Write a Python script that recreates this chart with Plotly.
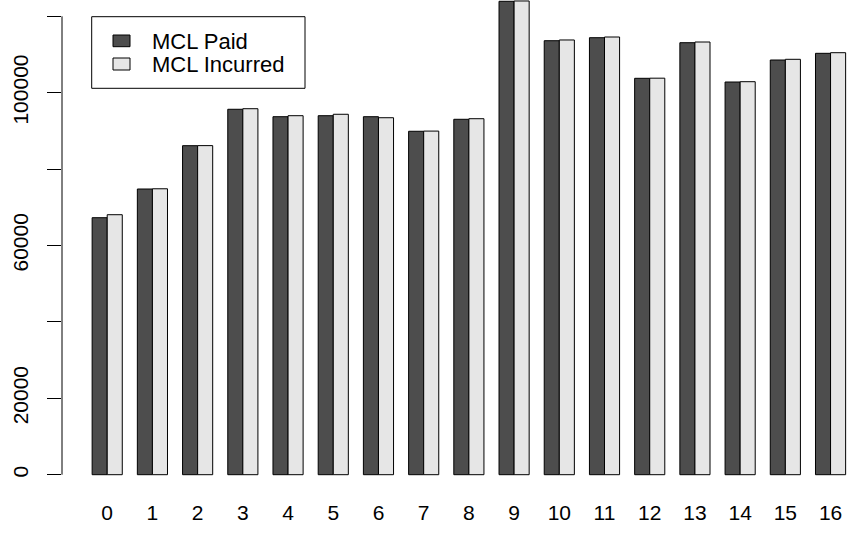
import plotly.graph_objects as go

# Development periods and the two mean-chain-ladder series
periods = [str(i) for i in range(17)]
series_names = ["MCL Paid", "MCL Incurred"]
mcl_paid = [67280, 74790, 86130, 95660, 93720, 93980, 93720, 89900, 93040,
            123930, 113610, 114400, 103770, 113090, 102800, 108560, 110310]
mcl_incurred = [68060, 74850, 86150, 95810, 93980, 94350, 93450, 89950, 93190,
                124010, 113800, 114580, 103800, 113270, 102880, 108740, 110470]
series_colors = ["#4D4D4D", "#E6E6E6"]

y_tick_vals = [0, 20000, 40000, 60000, 80000, 100000, 120000]
y_tick_text = ["0", "20000", "", "60000", "", "100000", ""]

W, H = 850, 537
L, R, T, B = 62, 0, 0, 47
PW, PH = W - L - R, H - T - B
FONT = "Liberation Sans, Arial, Helvetica, sans-serif"


def px_x(px):
    return (px - L) / PW


def px_y(py):
    return 1 - (py - T) / PH


fig = go.Figure()
for name, vals, col in zip(series_names, [mcl_paid, mcl_incurred], series_colors):
    fig.add_trace(go.Bar(
        x=periods, y=vals, name=name, showlegend=False,
        marker=dict(color=col, line=dict(color="black", width=1)),
    ))

shapes = [
    # y axis line spanning only the tick range
    dict(type="line", xref="paper", yref="y", x0=0, x1=0,
         y0=y_tick_vals[0], y1=y_tick_vals[-1],
         line=dict(color="black", width=1)),
    # legend frame
    dict(type="rect", xref="paper", yref="paper",
         x0=px_x(91.7), x1=px_x(305), y0=px_y(88.3), y1=px_y(16.7),
         line=dict(color="black", width=1), fillcolor="white"),
]
annotations = []
rows = [(35, 46.7, 41.7), (58, 70, 64.3)]
for (top, bot, mid), name, col in zip(rows, series_names, series_colors):
    shapes.append(dict(type="rect", xref="paper", yref="paper",
                       x0=px_x(113), x1=px_x(130), y0=px_y(bot), y1=px_y(top),
                       line=dict(color="black", width=1), fillcolor=col))
    annotations.append(dict(xref="paper", yref="paper", x=px_x(150), y=px_y(mid),
                            xanchor="left", yanchor="middle", text=name,
                            showarrow=False, font=dict(size=22, color="black",
                                                       family=FONT)))

fig.update_layout(
    width=W, height=H,
    margin=dict(l=L, r=R, t=T, b=B, pad=0),
    paper_bgcolor="white", plot_bgcolor="white",
    barmode="group", bargap=1 / 3, bargroupgap=0,
    font=dict(family=FONT, color="black", size=20),
    shapes=shapes, annotations=annotations,
    xaxis=dict(type="category", range=[-1.0, 16.43], showline=False,
               showgrid=False, zeroline=False, ticks="",
               tickfont=dict(size=21), ticklabelstandoff=8),
    yaxis=dict(range=[-4005, 124267], showline=False, showgrid=False,
               zeroline=False, ticks="outside", ticklen=14, tickwidth=1,
               tickcolor="black", tickvals=y_tick_vals, ticktext=y_tick_text,
               tickangle=-90, tickfont=dict(size=21), ticklabelstandoff=11),
)

fig.write_html("out.html")
